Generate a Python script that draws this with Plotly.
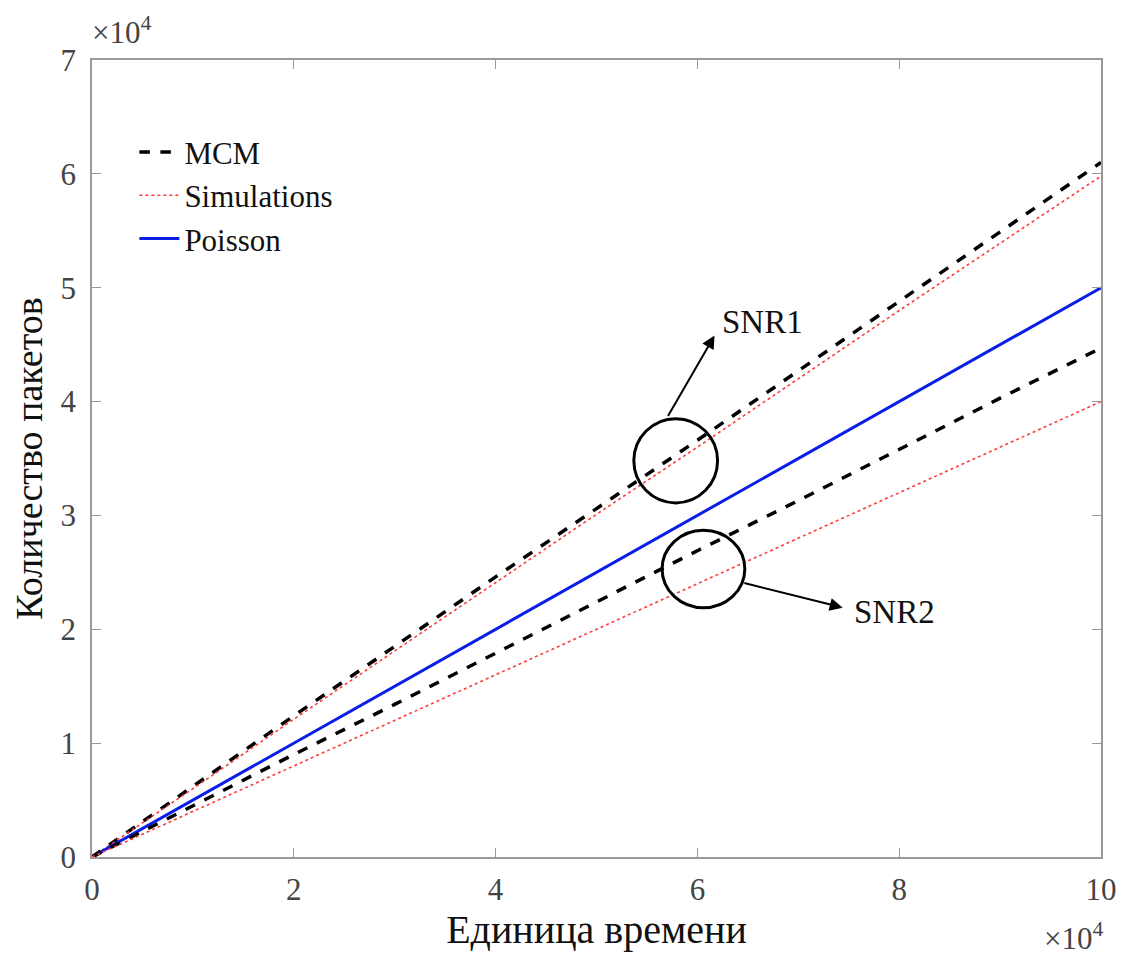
import plotly.graph_objects as go

# time in units of 10^4
time_x = [0, 1, 2, 3, 4, 5, 6, 7, 8, 9, 10]
mcm_snr1 = [0, 0.62, 1.24, 1.85, 2.46, 3.06, 3.66, 4.27, 4.88, 5.49, 6.10]
sim_snr1 = [0, 0.60, 1.21, 1.81, 2.41, 3.01, 3.60, 4.20, 4.80, 5.39, 5.98]
poisson = [0, 0.50, 1.00, 1.50, 2.00, 2.50, 3.00, 3.50, 4.00, 4.50, 5.00]
mcm_snr2 = [0, 0.45, 0.90, 1.34, 1.79, 2.24, 2.69, 3.13, 3.58, 4.03, 4.47]
sim_snr2 = [0, 0.40, 0.80, 1.20, 1.60, 2.00, 2.40, 2.80, 3.20, 3.60, 4.00]

x_ticks = [0, 2, 4, 6, 8, 10]
y_ticks = [0, 1, 2, 3, 4, 5, 6, 7]

FONT = "Liberation Serif, Times New Roman, DejaVu Serif, serif"

fig = go.Figure()
mcm_style = dict(color="black", width=3.5, dash="dash")
sim_style = dict(color="#ff3b3b", width=1.6, dash="dot")
poi_style = dict(color="#0a1ee8", width=3)

fig.add_trace(go.Scatter(x=time_x, y=mcm_snr1, mode="lines", line=mcm_style,
                         name="MCM", legendgroup="mcm"))
fig.add_trace(go.Scatter(x=time_x, y=sim_snr1, mode="lines", line=sim_style,
                         name="Simulations", legendgroup="sim"))
fig.add_trace(go.Scatter(x=time_x, y=poisson, mode="lines", line=poi_style,
                         name="Poisson", legendgroup="poi"))
fig.add_trace(go.Scatter(x=time_x, y=mcm_snr2, mode="lines", line=mcm_style,
                         name="MCM", legendgroup="mcm", showlegend=False))
fig.add_trace(go.Scatter(x=time_x, y=sim_snr2, mode="lines", line=sim_style,
                         name="Simulations", legendgroup="sim", showlegend=False))

# circles
fig.add_shape(type="circle", xref="x", yref="y", x0=5.37, x1=6.20, y0=3.11, y1=3.85,
              line=dict(color="black", width=3))
fig.add_shape(type="circle", xref="x", yref="y", x0=5.65, x1=6.47, y0=2.19, y1=2.87,
              line=dict(color="black", width=3))

# arrows
fig.add_annotation(x=6.17, y=4.58, ax=5.70, ay=3.86, xref="x", yref="y", axref="x", ayref="y",
                   showarrow=True, arrowhead=2, arrowsize=1.3, arrowwidth=2, arrowcolor="black", text="")
fig.add_annotation(x=7.44, y=2.19, ax=6.45, ay=2.41, xref="x", yref="y", axref="x", ayref="y",
                   showarrow=True, arrowhead=2, arrowsize=1.3, arrowwidth=2, arrowcolor="black", text="")
fig.add_annotation(x=6.22, y=4.70, xref="x", yref="y", text="SNR1", showarrow=False,
                   xanchor="left", yanchor="middle", font=dict(family=FONT, size=33, color="#111"))
fig.add_annotation(x=7.53, y=2.15, xref="x", yref="y", text="SNR2", showarrow=False,
                   xanchor="left", yanchor="middle", font=dict(family=FONT, size=33, color="#111"))

# exponent labels
fig.add_annotation(x=0, y=1, xref="paper", yref="paper", text="×10<sup>4</sup>", showarrow=False,
                   xanchor="left", yanchor="bottom", yshift=8, xshift=-2,
                   font=dict(family=FONT, size=31, color="#444"))
fig.add_annotation(x=1, y=0, xref="paper", yref="paper", text="×10<sup>4</sup>", showarrow=False,
                   xanchor="right", yanchor="top", yshift=-58, xshift=4,
                   font=dict(family=FONT, size=31, color="#444"))

axis_common = dict(showline=True, linecolor="#9a9a9a", linewidth=1.5, mirror="ticks",
                   ticks="inside", ticklen=9, tickcolor="#9a9a9a", showgrid=False, zeroline=False,
                   automargin=False, tickfont=dict(family=FONT, size=31, color="#444"))

fig.update_xaxes(range=[0, 10], tickvals=x_ticks, ticktext=[str(v) for v in x_ticks],
                 ticklabelstandoff=4,
                 title=dict(text="Единица времени", font=dict(family=FONT, size=40, color="#111"),
                            standoff=2), **axis_common)
fig.update_yaxes(range=[0, 7], tickvals=y_ticks, ticktext=[str(v) for v in y_ticks],
                 ticklabelstandoff=8,
                 title=dict(text="Количество пакетов", font=dict(family=FONT, size=38, color="#111"),
                            standoff=14), **axis_common)

fig.update_layout(
    width=1128, height=961,
    margin=dict(l=84, r=35, t=52, b=112),
    plot_bgcolor="white", paper_bgcolor="white",
    legend=dict(x=0.042, y=0.918, xanchor="left", yanchor="top", bgcolor="rgba(0,0,0,0)",
                font=dict(family=FONT, size=31, color="#111"), tracegroupgap=0, itemwidth=40),
)

fig.write_html("out.html")
